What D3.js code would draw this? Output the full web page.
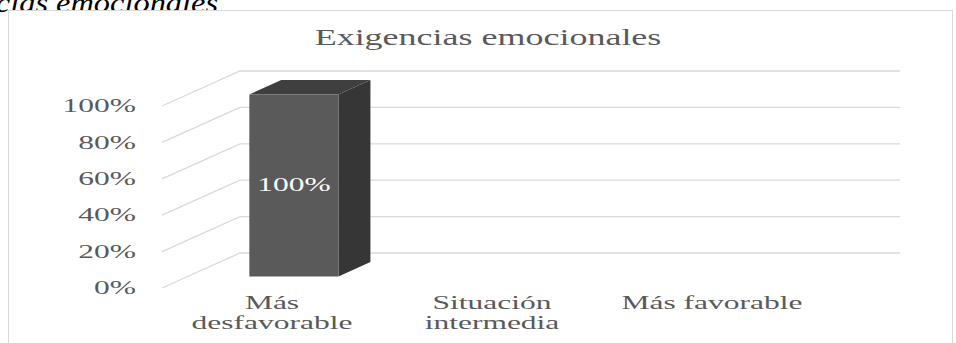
<!DOCTYPE html>
<html>
<head>
<meta charset="utf-8">
<script src="https://cdn.jsdelivr.net/npm/d3@7"></script>
<style>
  html, body { margin: 0; padding: 0; background: #fff; }
  svg { display: block; }
  text { font-family: "Liberation Serif", "Times New Roman", serif; }
</style>
</head>
<body>
<svg id="chart" width="956" height="343"></svg>
<script>
// ---- data ----
const chartTitle = "Exigencias emocionales";
const captionText = "Exigencias emocionales";
const categories = ["Más desfavorable", "Situación intermedia", "Más favorable"];
const categoryLines = [["Más", "desfavorable"], ["Situación", "intermedia"], ["Más favorable"]];
const values = [1.00, 0, 0];
const tickValues = [0, 0.2, 0.4, 0.6, 0.8, 1.0];

// ---- layout ----
const W = 956, H = 343;
const depthDX = -78, depthDY = 35;     // oblique 3D offset from back wall to front of floor
const zFront = 0.67, zBack = 0.26;     // bar depth position
const sx = 1.75;                       // horizontal stretch of the source picture

const svg = d3.select("#chart");

const x = d3.scaleBand().domain(categories).range([240, 900]);
const y = d3.scaleLinear().domain([0, 1]).range([253, 71]);
const proj = (px, py, z) => [px + depthDX * z, py + depthDY * z];

// caption (cut off at the top of the picture, as in the source)
svg.append("text")
  .attr("transform", "translate(218,12) scale(1.2,1)")
  .attr("text-anchor", "end")
  .attr("font-size", 27)
  .attr("font-style", "italic")
  .attr("fill", "#000")
  .text(captionText);

// chart area border
svg.append("rect")
  .attr("x", 8.5).attr("y", 10.5)
  .attr("width", 944).attr("height", 360)
  .attr("fill", "#fff")
  .attr("stroke", "#d9d9d9");

// title
svg.append("text")
  .attr("transform", "translate(488,45) scale(1.5,1)")
  .attr("text-anchor", "middle")
  .attr("font-size", 24)
  .attr("fill", "#595959")
  .text(chartTitle);

// gridlines: side wall diagonal + back wall horizontal
const grid = svg.append("g");
tickValues.forEach(t => {
  const yb = y(t);
  const pts = [proj(x.range()[0], yb, 1), [x.range()[0], yb], [x.range()[1], yb]];
  grid.append("path")
    .attr("d", d3.line()(pts))
    .attr("fill", "none")
    .attr("stroke", "#d9d9d9")
    .attr("stroke-width", 1.3);
});

// y axis labels (at front of the floor)
const yAxisG = svg.append("g")
  .attr("transform", `translate(136,${depthDY})`)
  .call(d3.axisLeft(y).tickValues(tickValues).tickSize(0).tickPadding(0).tickFormat(d3.format(".0%")));
yAxisG.select(".domain").remove();
yAxisG.selectAll("text")
  .attr("x", 0)
  .attr("dy", "0.32em")
  .attr("font-size", 18)
  .attr("font-family", "Liberation Serif, serif")
  .attr("fill", "#595959")
  .attr("transform", `scale(${sx},1)`);

// bars
const bw = x.bandwidth();
const barData = categories.map((c, i) => ({ c, v: values[i] })).filter(d => d.v > 0);
const bars = svg.append("g");
barData.forEach(d => {
  const x0 = x(d.c) + bw * 0.28, x1 = x(d.c) + bw * 0.685;
  const yt = y(d.v), y0 = y(0);
  const poly = arr => arr.map(p => p.join(",")).join(" ");
  // side
  bars.append("polygon")
    .attr("points", poly([proj(x1, yt, zFront), proj(x1, yt, zBack), proj(x1, y0, zBack), proj(x1, y0, zFront)]))
    .attr("fill", "#363636");
  // top
  bars.append("polygon")
    .attr("points", poly([proj(x0, yt, zFront), proj(x1, yt, zFront), proj(x1, yt, zBack), proj(x0, yt, zBack)]))
    .attr("fill", "#3f3f3f");
  // front
  bars.append("polygon")
    .attr("points", poly([proj(x0, yt, zFront), proj(x1, yt, zFront), proj(x1, y0, zFront), proj(x0, y0, zFront)]))
    .attr("fill", "#5a5a5a");
  // data label
  const c = proj((x0 + x1) / 2, (yt + y0) / 2, zFront);
  bars.append("text")
    .attr("transform", `translate(${c[0]},${c[1]}) scale(${sx},1)`)
    .attr("text-anchor", "middle")
    .attr("dy", "0.32em")
    .attr("font-size", 18)
    .attr("fill", "#fff")
    .text(d3.format(".0%")(d.v));
});

// category labels (at the front edge of the floor)
const catG = svg.append("g");
categories.forEach((c, i) => {
  const cx = x(c) + bw / 2 + depthDX;
  categoryLines[i].forEach((line, j) => {
    catG.append("text")
      .attr("transform", `translate(${cx},${309 + j * 20}) scale(${sx},1)`)
      .attr("text-anchor", "middle")
      .attr("font-size", 18)
      .attr("fill", "#595959")
      .text(line);
  });
});
</script>
</body>
</html>
